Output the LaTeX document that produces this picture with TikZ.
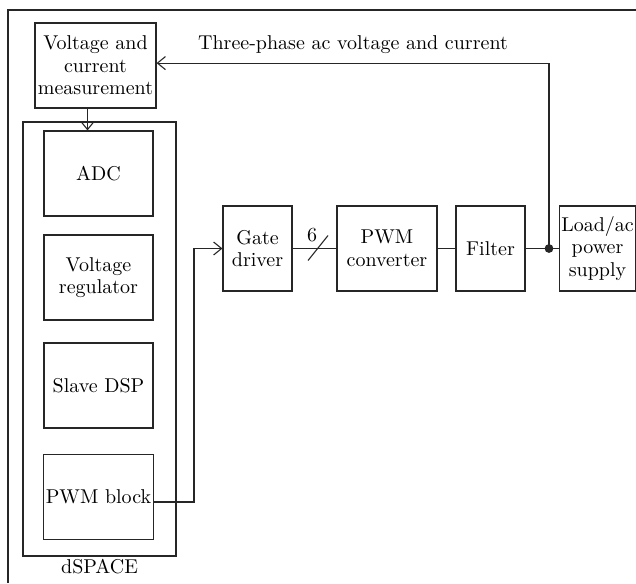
\documentclass[tikz,border=0pt]{standalone}
\usepackage{tikz}
\usetikzlibrary{arrows.meta}

\begin{document}
\begin{tikzpicture}[x=0.5pt,y=-0.5pt,line width=0.55pt,draw=black!85,
  >={Straight Barb[length=4pt,width=6.5pt]},
  blk/.style={draw,align=center,inner sep=1pt,font=\fontsize{10}{11.3}\selectfont},
  lbl/.style={inner sep=1pt,font=\fontsize{10}{11.3}\selectfont}]
\useasboundingbox (0,0) rectangle (636,583);
% outer frame, only the top and left edges fall inside the picture
\draw (636,10) -- (8,10) -- (8,583);
% measurement block and the dSPACE unit with its four stages
\node[blk,minimum width=60.5pt,minimum height=42.5pt] (vcm) at (95.5,65.5) {Voltage and\\current\\measurement};
\node[draw,minimum width=76.5pt,minimum height=217pt] (dspace) at (99.5,339) {};
\node[lbl,below] (dsl) at (dspace.south) {dSPACE};
\node[blk,minimum width=54.5pt,minimum height=42.5pt] (adc) at (98.5,173.5) {ADC};
\node[blk,minimum width=54.5pt,minimum height=42.5pt] (vreg) at (98.5,277.5) {Voltage\\regulator};
\node[blk,minimum width=54.5pt,minimum height=42.5pt] (dsp) at (98.5,385.5) {Slave DSP};
\node[blk,minimum width=54.5pt,minimum height=42.5pt] (pwmb) at (98.5,497) {PWM block};
% power path
\node[blk,minimum width=34.5pt,minimum height=42.5pt] (gd) at (257.5,248.5) {Gate\\driver};
\node[blk,minimum width=50pt,minimum height=42.5pt] (conv) at (387,248.5) {PWM\\converter};
\node[blk,minimum width=34.5pt,minimum height=42.5pt] (filt) at (490.5,248.5) {Filter};
\node[blk,minimum width=37.5pt,minimum height=42.5pt] (load) at (597.5,248.5) {Load/ac\\power\\supply};
\fill[black!85] (549,248.5) circle (2.2pt) coordinate (tap);
% connections
\draw[->] ([xshift=-4pt]vcm.south) -- ([xshift=-4pt]vcm.south |- adc.north);
\draw[->] ([yshift=-2.5pt]pwmb.east) -| (194,248.5) -- (gd.west);
\draw (gd.east) -- (conv.west);
\coordinate (bus) at (318,248.5);
\draw ([shift={(-10,12)}]bus) -- ([shift={(10,-13)}]bus);
\node[lbl] (six) at (312,235) {6};
\draw (conv.east) -- (filt.west);
\draw (filt.east) -- (tap) -- (load.west);
\draw[->] (tap) |- ([yshift=1.2pt]vcm.east);
\node[lbl] (fb) at (353,45) {Three-phase ac voltage and current};
\end{tikzpicture}
\end{document}
